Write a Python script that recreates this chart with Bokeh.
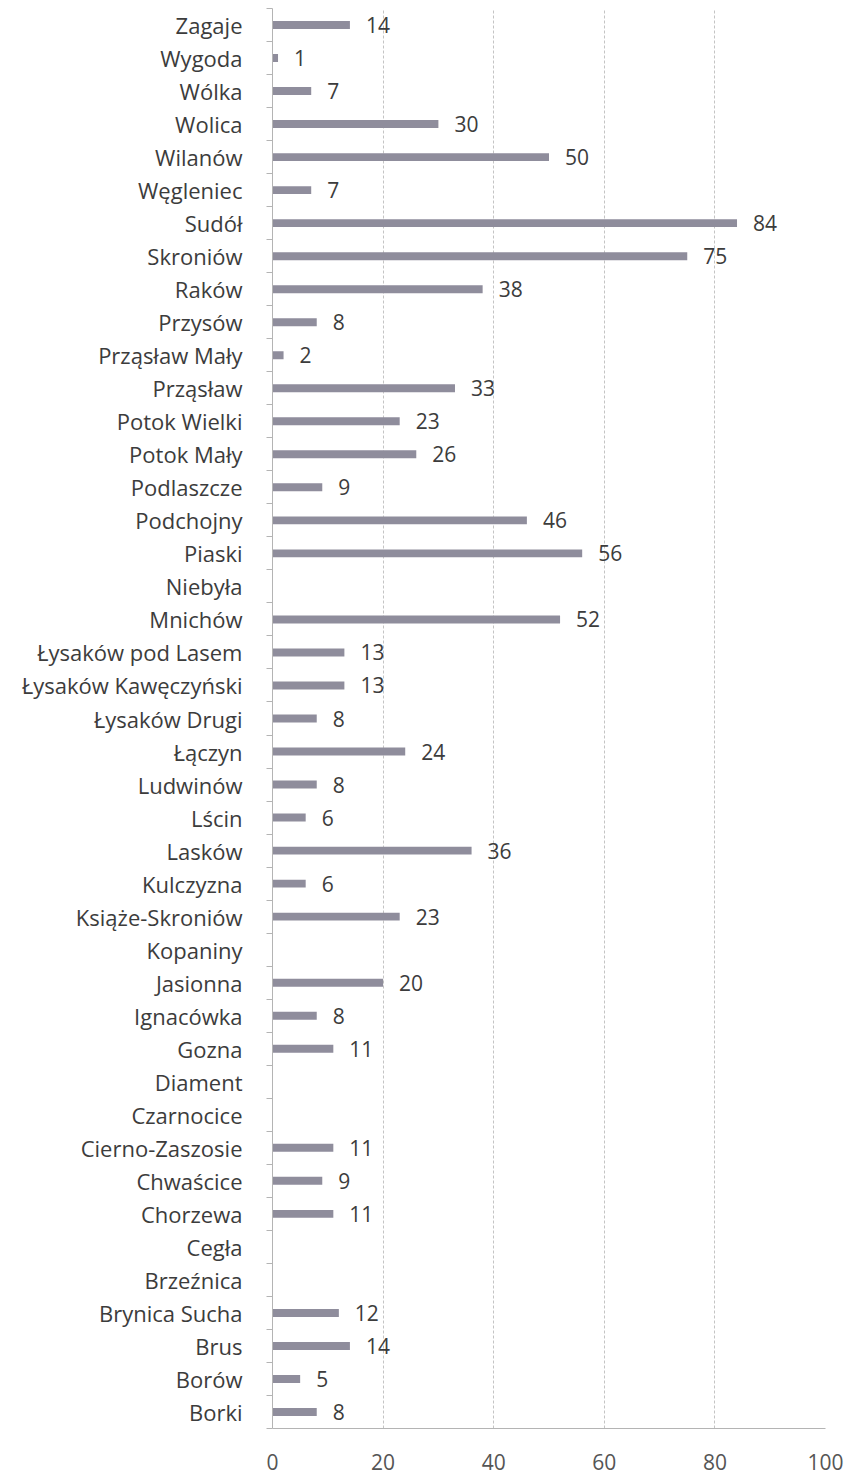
from bokeh.plotting import figure
from bokeh.models import Range1d, ColumnDataSource, FixedTicker
from bokeh.core.properties import value
from bokeh.embed import file_html
from bokeh.resources import INLINE

# categories listed top to bottom
villages = ["Zagaje", "Wygoda", "Wólka", "Wolica", "Wilanów", "Węgleniec", "Sudół",
            "Skroniów", "Raków", "Przysów", "Prząsław Mały", "Prząsław", "Potok Wielki",
            "Potok Mały", "Podlaszcze", "Podchojny", "Piaski", "Niebyła", "Mnichów",
            "Łysaków pod Lasem", "Łysaków Kawęczyński", "Łysaków Drugi", "Łączyn",
            "Ludwinów", "Lścin", "Lasków", "Kulczyzna", "Książe-Skroniów", "Kopaniny",
            "Jasionna", "Ignacówka", "Gozna", "Diament", "Czarnocice", "Cierno-Zaszosie",
            "Chwaścice", "Chorzewa", "Cegła", "Brzeźnica", "Brynica Sucha", "Brus",
            "Borów", "Borki"]
counts = [14, 1, 7, 30, 50, 7, 84, 75, 38, 8, 2, 33, 23, 26, 9, 46, 56, None, 52,
          13, 13, 8, 24, 8, 6, 36, 6, 23, None, 20, 8, 11, None, None, 11, 9, 11,
          None, None, 12, 14, 5, 8]
x_ticks = [0, 20, 40, 60, 80, 100]

FONT = "Open Sans"
TXT = "#3c3c3c"

n = len(villages)
pos = [n - 1 - i for i in range(n)]          # top row is highest
ys = [pos[i] for i, c in enumerate(counts) if c is not None]
xs = [c for c in counts if c is not None]
src = ColumnDataSource(dict(y=ys, x=xs, lab=[str(c) for c in xs]))

p = figure(width=850, height=1474, output_backend="svg", toolbar_location=None,
           y_range=Range1d(-0.5, n - 0.5), x_range=Range1d(0, 100),
           min_border_left=272, min_border_right=25, min_border_top=8,
           min_border_bottom=46)

p.hbar(y="y", right="x", left=0, height=0.24, source=src,
       fill_color="#8f8d9c", line_color=None)
p.text(x="x", y="y", text="lab", source=src, x_offset=16, text_baseline="middle",
       text_align="left", text_font=value(FONT), text_font_size="21px", text_color=TXT)

p.outline_line_color = None
p.ygrid.grid_line_color = None
p.xgrid.grid_line_color = "#c4c4c4"
p.xgrid.grid_line_dash = "3 2"
p.xaxis.ticker = FixedTicker(ticks=x_ticks)

p.yaxis.ticker = FixedTicker(ticks=pos, minor_ticks=[k + 0.5 for k in range(-1, n)])
p.yaxis.major_label_overrides = {pos[i]: villages[i] for i in range(n)}

for ax in (p.xaxis[0], p.yaxis[0]):
    ax.major_tick_line_color = None
    ax.major_tick_out = 0
    ax.major_tick_in = 0
    ax.axis_line_color = "#b4b4b4"
    ax.major_label_text_font = FONT
    ax.major_label_text_color = TXT

p.xaxis.minor_tick_line_color = None
p.yaxis.minor_tick_line_color = "#b4b4b4"
p.yaxis.minor_tick_out = 6
p.yaxis.minor_tick_in = 0

p.yaxis.major_label_text_font_size = "22px"
p.yaxis.major_label_standoff = 24
p.xaxis.major_label_text_font_size = "21px"
p.xaxis.major_label_standoff = 25
p.xaxis.major_label_text_color = "#555555"

open("out.html", "w").write(file_html(p, INLINE))
